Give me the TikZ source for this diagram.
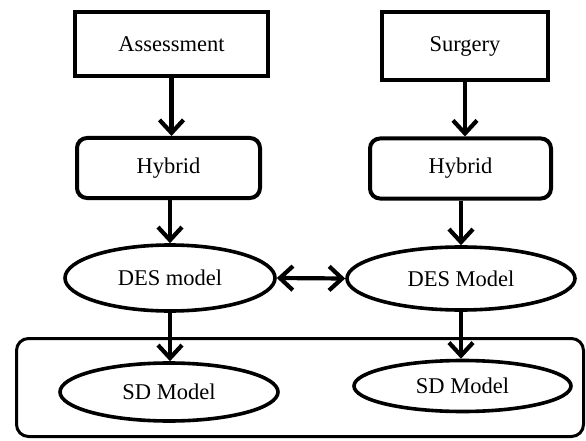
\documentclass[tikz,border=0pt]{standalone}
\usepackage{fontspec}
\setmainfont{Liberation Serif}
\usepackage{tikz}
\usetikzlibrary{arrows.meta,positioning,shapes.geometric}

\begin{document}
\begin{tikzpicture}[
  x=1pt,y=-1pt,
  font=\fontsize{22.5}{27}\selectfont,
  box/.style={draw,line width=4pt,inner sep=0pt,align=center},
  hyb/.style={box,rounded corners=10pt},
  model/.style={ellipse,draw,line width=3.6pt,inner sep=0pt},
  ar/.style={-{Straight Barb[length=13pt,width=24pt]},line width=4.2pt},
  dbl/.style={{Straight Barb[length=13pt,width=24pt]}-{Straight Barb[length=13pt,width=24pt]},line width=4.2pt},
]
\useasboundingbox (0,0) rectangle (586,441);

% outer frame round the SD models
\node[draw,line width=3pt,rounded corners=12pt,minimum width=567pt,minimum height=98pt] (frame) at (300,387.5) {};

\node[box,minimum width=193pt,minimum height=64pt] (assess) at (171.5,44) {Assessment};
\node[box,minimum width=166pt,minimum height=68pt] (surg) at (465,46) {Surgery};

\node[hyb,minimum width=183pt,minimum height=60pt] (hybl) at (168.5,168) {Hybrid};
\node[hyb,minimum width=181pt,minimum height=60pt] (hybr) at (460.5,168.5) {Hybrid};

\node[model,minimum width=210pt,minimum height=66pt] (desl) at (170,278) {DES model};
\node[model,minimum width=228pt,minimum height=63pt] (desr) at (461,278.5) {DES Model};

\node[model,minimum width=218pt,minimum height=58pt] (sdl) at (169,392) {SD Model};
\node[model,minimum width=217pt,minimum height=51pt] (sdr) at (462.5,386) {SD Model};

\draw[ar] (assess.south) -- (assess.south |- hybl.north);
\draw[ar] (surg.south) -- (surg.south |- hybr.north);
\draw[ar] (desl |- hybl.south) -- (desl.north);
\draw[ar] (desr |- hybr.south) -- (desr.north);
\draw[dbl] (desl.east) -- (desr.west);
\draw[ar] (desl.south) -- (desl.south |- sdl.north);
\draw[ar] (desr.south) -- (desr.south |- sdr.north);
\end{tikzpicture}
\end{document}
